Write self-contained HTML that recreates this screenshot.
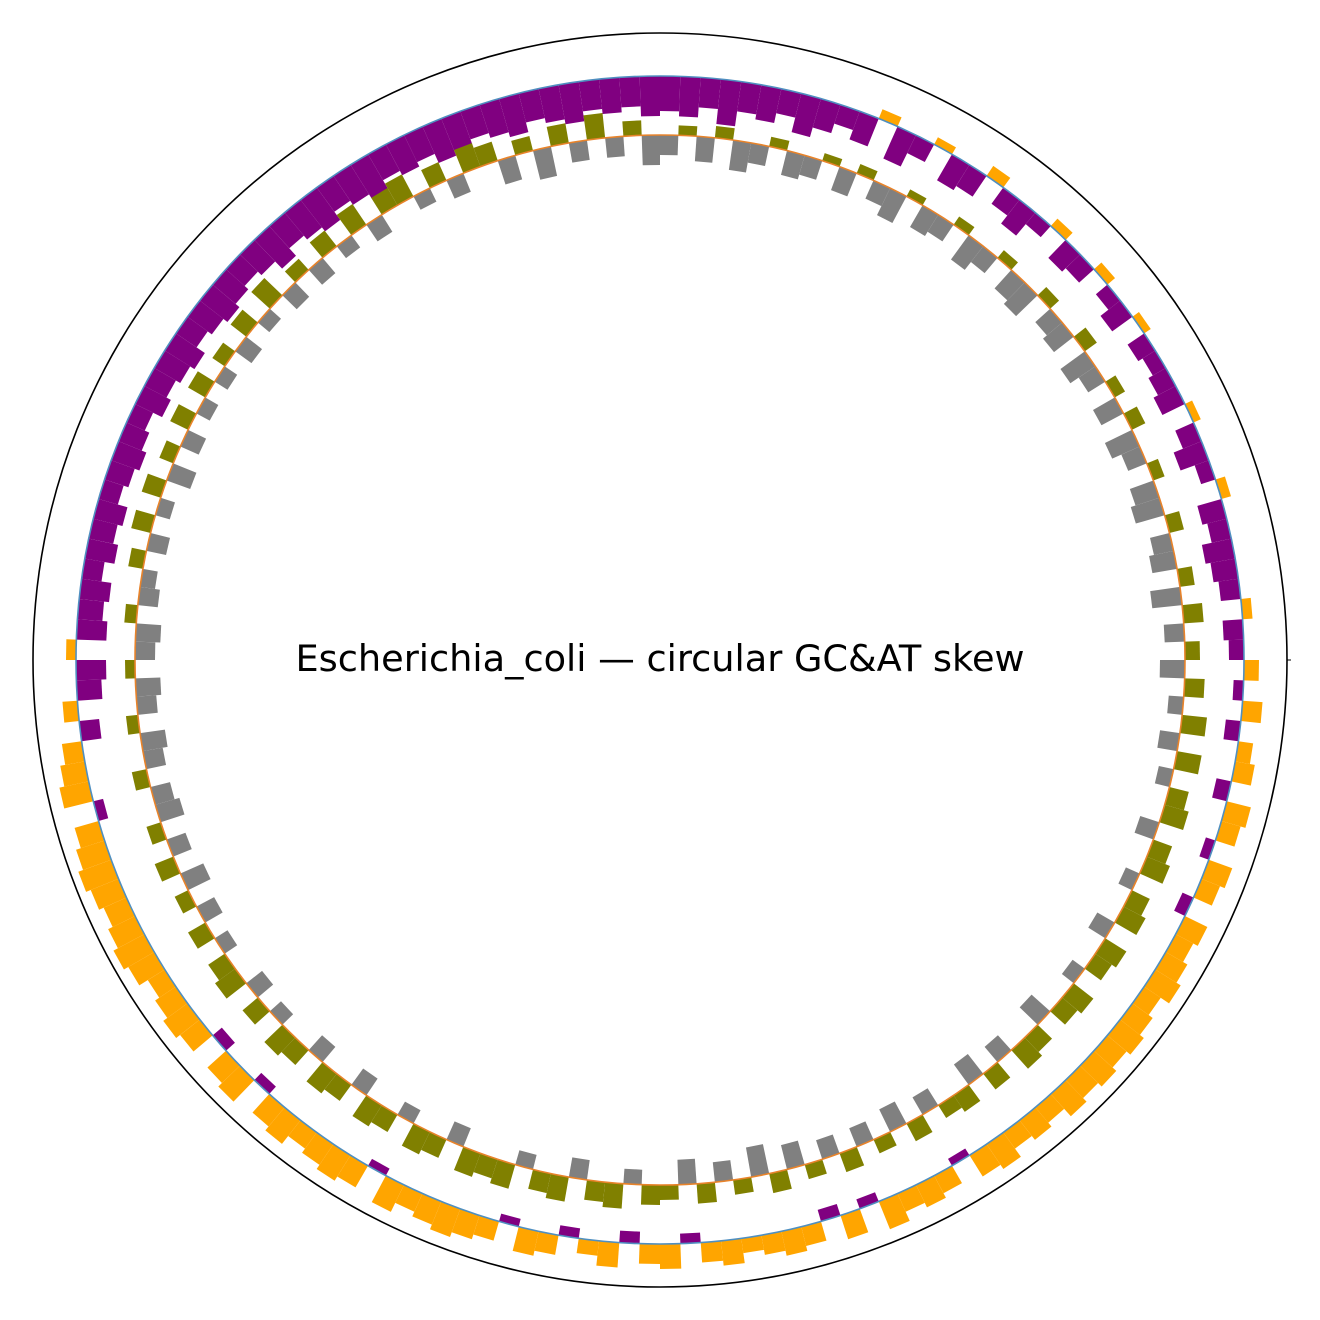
<!DOCTYPE html>
<html>
<head>
<meta charset="utf-8">
<style>
  html,body{margin:0;padding:0;background:#fff;}
  svg{display:block;}
  text{font-family:"DejaVu Sans","Liberation Sans",sans-serif;}
</style>
</head>
<body>
<svg id="chart" width="1320" height="1320" viewBox="0 0 1320 1320">
  <rect width="1320" height="1320" fill="#fff"/>
  <circle cx="660" cy="660" r="627" fill="none" stroke="#000" stroke-width="1.6"/>
  <line x1="1287" y1="660" x2="1291" y2="660" stroke="#000" stroke-width="1"/>
  <g id="gc-bars"></g>
  <g id="at-bars"></g>
  <circle cx="660" cy="660" r="584" fill="none" stroke="#4f8fc0" stroke-width="1.6"/>
  <circle cx="660" cy="660" r="525" fill="none" stroke="#e8832a" stroke-width="1.6"/>
  <text x="660" y="671" text-anchor="middle" font-size="36.7" fill="#000">Escherichia_coli — circular GC&amp;AT skew</text>
</svg>
<script>
// GC skew per 2° bin, clockwise from top
const gcSkew = [
-0.35,-0.4,-0.3,-0.45,-0.3,-0.35,-0.25,-0.4,-0.3,-0.2,
-0.3,0.1,-0.35,-0.2,0.08,-0.3,-0.25,0.12,-0.2,-0.3,
-0.15,0.1,-0.25,-0.2,0.1,-0.15,-0.25,0.08,-0.2,-0.15,
-0.2,-0.25,0.08,-0.2,-0.3,-0.15,0.1,-0.25,-0.2,-0.3,
-0.25,-0.2,0.1,-0.2,-0.15,0.15,-0.1,0.2,-0.15,0.15,
0.2,-0.15,0.25,0.2,-0.1,0.25,0.2,-0.12,0.25,0.2,
0.25,0.3,0.2,0.25,0.3,0.25,0.3,0.25,0.3,0.2,
0.25,0.2,0.3,0.25,-0.08,0.2,0.25,0.2,0.3,-0.1,
0.25,-0.12,0.2,0.25,0.2,0.15,0.25,0.2,-0.1,0.25,
0.2,-0.12,0.25,0.15,-0.1,0.2,0.25,-0.08,0.2,0.25,
0.3,0.25,0.2,0.3,-0.08,0.25,0.3,0.25,0.2,0.3,
0.25,-0.1,0.3,0.25,-0.12,0.25,0.3,0.25,0.2,0.3,
0.35,0.3,0.25,0.3,0.35,0.3,0.25,-0.1,0.3,0.25,
0.2,-0.2,0.15,-0.25,-0.3,0.1,-0.3,-0.25,-0.3,-0.2,
-0.3,-0.25,-0.3,-0.2,-0.25,-0.3,-0.25,-0.2,-0.3,-0.25,
-0.3,-0.35,-0.25,-0.3,-0.35,-0.3,-0.25,-0.3,-0.4,-0.3,
-0.35,-0.4,-0.3,-0.35,-0.4,-0.3,-0.35,-0.3,-0.4,-0.35,
-0.3,-0.35,-0.4,-0.3,-0.35,-0.4,-0.3,-0.35,-0.3,-0.4
];
// AT skew per 2° bin, clockwise from top
const atSkew = [
-0.2,0.1,-0.25,0.12,-0.3,-0.2,0.1,-0.25,-0.2,0.08,
-0.25,0.1,-0.2,-0.3,0.08,-0.25,-0.2,0.1,-0.3,-0.2,
0.1,-0.25,-0.3,0.12,-0.2,-0.25,0.15,-0.3,-0.2,0.12,
-0.25,0.15,-0.3,-0.2,0.12,-0.25,-0.3,0.15,-0.2,-0.25,
0.15,-0.3,0.2,-0.2,0.15,-0.25,0.2,-0.15,0.25,-0.2,
0.25,-0.15,0.2,0.25,-0.2,0.2,0.25,-0.15,0.2,0.25,
-0.2,0.25,0.2,-0.15,0.25,0.2,-0.25,0.2,0.25,-0.2,
0.2,-0.25,0.2,0.15,-0.2,0.2,-0.25,0.15,-0.2,0.2,
-0.2,0.15,-0.25,0.2,-0.3,0.15,-0.2,0.2,-0.25,0.15,
0.2,-0.15,0.25,0.2,-0.2,0.25,0.2,-0.15,0.25,0.2,
0.25,-0.2,0.2,0.25,-0.15,0.2,0.25,-0.2,0.2,0.25,
-0.2,0.2,0.25,-0.15,0.2,-0.2,0.25,0.2,-0.15,0.2,
-0.2,0.15,-0.25,0.2,-0.2,0.15,-0.25,-0.2,0.15,-0.2,
-0.25,0.12,-0.2,-0.25,0.1,-0.2,-0.25,0.12,-0.2,-0.15,
0.15,-0.2,0.2,-0.15,0.2,-0.25,0.15,-0.2,0.2,-0.15,
0.2,-0.15,0.15,-0.2,0.2,-0.15,0.25,-0.2,0.15,-0.2,
0.2,-0.15,0.25,-0.2,0.2,0.25,-0.15,0.2,-0.2,0.25,
0.2,-0.25,0.15,-0.3,0.2,-0.2,0.25,-0.2,0.15,-0.3
];

const CX = 660, CY = 660;
const SCALE = 100; // px per skew unit
function angleOf(i, n) { return i * 360 / n; }
function radial(base, v) { return base + v * SCALE; }
function pt(r, deg) {
  const a = (deg - 90) * Math.PI / 180;
  return [CX + r * Math.cos(a), CY + r * Math.sin(a)];
}
function drawRing(gid, values, base, posColor, negColor, name) {
  const g = document.getElementById(gid);
  const n = values.length;
  const step = 360 / n;
  values.forEach((v, i) => {
    const a0 = angleOf(i, n);
    const a1 = angleOf(i, n) + step;
    const r1 = radial(base, v);
    const p1 = pt(base, a0), p2 = pt(r1, a0), p3 = pt(r1, a1), p4 = pt(base, a1);
    const path = document.createElementNS('http://www.w3.org/2000/svg', 'path');
    path.setAttribute('d', `M${p1[0]},${p1[1]}L${p2[0]},${p2[1]}L${p3[0]},${p3[1]}L${p4[0]},${p4[1]}Z`);
    path.setAttribute('fill', v >= 0 ? posColor : negColor);
    
    
    g.appendChild(path);
  });
}
drawRing('gc-bars', gcSkew, 584, '#FFA500', '#800080', 'gc-skew-bar');
drawRing('at-bars', atSkew, 525, '#808000', '#808080', 'at-skew-bar');
</script>
</body>
</html>
